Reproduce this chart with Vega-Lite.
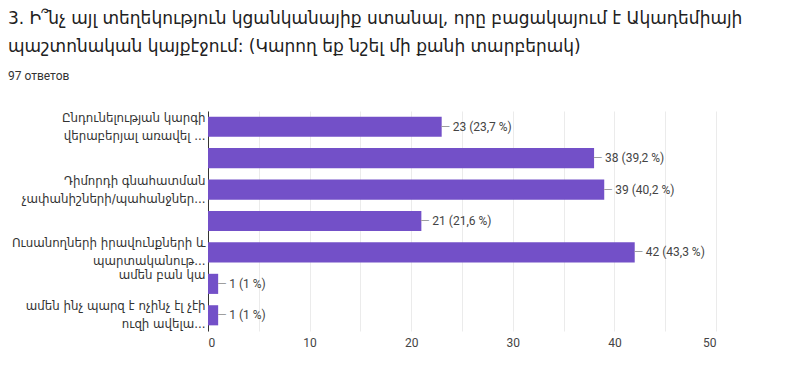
{
  "$schema": "https://vega.github.io/schema/vega-lite/v6.json",
  "width": 508,
  "height": 220,
  "autosize": "none",
  "padding": {"left": 208, "top": 111, "right": 84, "bottom": 53},
  "background": "white",
  "title": {
    "text": ["3. Ի՞նչ այլ տեղեկություն կցանկանայիք ստանալ, որը բացակայում է Ակադեմիայի", "պաշտոնական կայքէջում: (Կարող եք նշել մի քանի տարբերակ)"],
    "subtitle": "97 ответов",
    "anchor": "start",
    "frame": "group",
    "dx": -200,
    "offset": 28,
    "font": "DejaVu Sans",
    "fontSize": 17,
    "fontWeight": "normal",
    "lineHeight": 28,
    "color": "#212121",
    "subtitleFont": "Roboto",
    "subtitleFontSize": 12,
    "subtitleColor": "#333333",
    "subtitlePadding": 15
  },
  "data": {
    "values": [
      {"label": "Ընդունելության կարգի|վերաբերյալ առավել ...", "count": 23, "text": "23 (23,7 %)"},
      {"label": " ", "count": 38, "text": "38 (39,2 %)"},
      {"label": "Դիմորդի գնահատման|չափանիշների/պահանջներ...", "count": 39, "text": "39 (40,2 %)"},
      {"label": "  ", "count": 21, "text": "21 (21,6 %)"},
      {"label": "Ուսանողների իրավունքների և|պարտականութ...", "count": 42, "text": "42 (43,3 %)"},
      {"label": "ամեն բան կա", "count": 1, "text": "1 (1 %)"},
      {"label": "ամեն ինչ պարզ է ոչինչ էլ չէի|ուզի ավելա...", "count": 1, "text": "1 (1 %)"}
    ]
  },
  "encoding": {
    "y": {
      "field": "label",
      "type": "nominal",
      "sort": null,
      "scale": {"paddingInner": 0.36, "paddingOuter": 0.18},
      "axis": {
        "title": null,
        "labelExpr": "split(datum.value, '|')",
        "labelFont": "DejaVu Sans",
        "labelFontSize": 11.8,
        "labelColor": "#333333",
        "labelLineHeight": 18,
        "labelLimit": 220,
        "labelOffset": -9,
        "ticks": false,
        "labelPadding": 3,
        "domainColor": "#333333",
        "domainWidth": 1,
        "grid": false
      }
    },
    "x": {
      "field": "count",
      "type": "quantitative",
      "scale": {"domain": [0, 50], "nice": false},
      "axis": {
        "title": null,
        "values": [0, 5, 10, 15, 20, 25, 30, 35, 40, 45, 50],
        "labelExpr": "datum.value % 10 == 0 ? datum.label : ''",
        "labelFont": "Roboto",
        "labelFontSize": 12,
        "labelColor": "#444444",
        "labelPadding": 6,
        "ticks": false,
        "domain": false,
        "gridColor": "#ebebeb",
        "gridWidth": 1
      }
    }
  },
  "layer": [
    {"mark": {"type": "bar", "color": "#7350c8"}},
    {
      "mark": {"type": "text", "text": "—", "align": "left", "dx": -1, "font": "Roboto", "fontSize": 12, "color": "#9e9e9e"}
    },
    {
      "mark": {"type": "text", "align": "left", "dx": 11, "font": "Roboto", "fontSize": 12, "color": "#444444"},
      "encoding": {"text": {"field": "text"}}
    }
  ],
  "config": {"view": {"stroke": null}}
}
